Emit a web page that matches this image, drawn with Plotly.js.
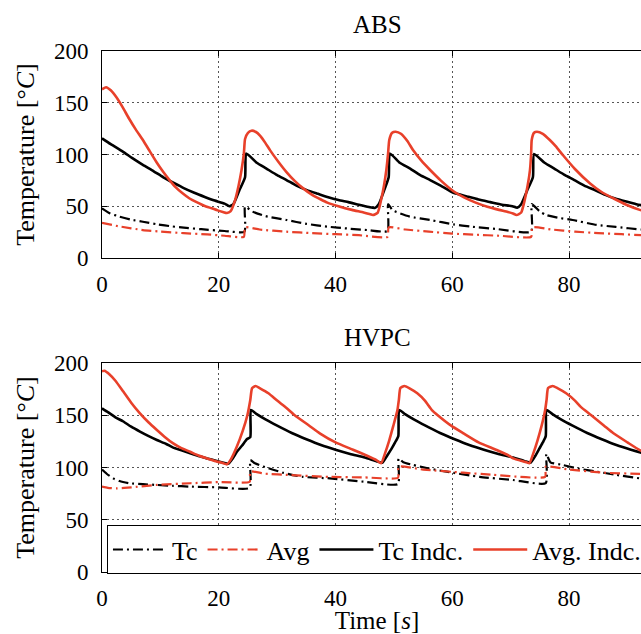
<!DOCTYPE html>
<html><head><meta charset="utf-8">
<script src="https://cdn.plot.ly/plotly-3.0.1.min.js"></script>
<style>html,body{margin:0;padding:0;overflow:hidden;background:#fff;width:641px;height:634px}#chart{width:700px;height:634px}</style>
</head><body><div id="chart"></div><script>
// ---------- ABS (top panel) ----------
const absTcT = [0,1.4,3,5,7,9.5,12,14,17,21,24.4,24.5,25.8,28,31.6,35,38.6,42,45.5,48.9,49.0,49.8,52.7,56.2,60.2,63.2,67.6,73.5,73.6,75,76.1,78,80.6,84.7,88,92.4,95];
const absTc  = [48,43,40,37,35,32.5,30.5,29.3,27.8,26.1,25.4,49.6,44.8,40.5,36.7,33,30.3,28.5,27,26,52,46,40,36.7,32.5,30.3,28,25.4,52,44.8,41.5,39,36.7,32,30,27.5,26.5];
const absAvgT = [0,3,7,10,14,18,21,24.3,24.5,27,31.6,36,40,44,48.9,49.1,52,56,60,64,68,73.5,73.7,77,81,85,89,92.4,95];
const absAvg  = [34,30.5,27,25.5,24,22.8,21.5,20.4,29.6,27.5,25.4,24,23,22,20.4,29.6,27.5,25.5,23.5,22.5,21.5,20.4,29.6,27.5,25.5,24,23,22,21.5];
const absTcIndT = [0,1.5,3.5,5.2,7,8.8,10.5,12.3,14,15.8,17.6,19.3,21,21.8,22.5,23.5,24.5,24.7,26.5,28.1,30,31.6,33.3,35.1,37,38.6,40.5,42.2,44,45.7,46.7,47.4,48.3,49.1,49.3,51,52.7,54.5,56.2,58,60.2,62.5,64.5,66.5,68.5,70.3,71.1,71.8,72.8,73.8,74.0,75.8,77.4,79.3,80.9,82.6,84.4,86.2,87.9,89.8,91.5,93,95];
const absTcInd  = [115.6,110,103,96.5,90,84,78,72.5,67.5,63,59,55.5,52.5,50,52,65,78,101,92,86.6,80,75.3,70,65.6,62,59,56,54,51.5,49.3,48.3,52,65,78,101,92,86.6,80,75.3,70,63,59.5,56.5,54,51.5,50,48.6,52,65,78,100.5,92,86.6,80,75.3,70,65.6,61,57.5,54.5,52,50.5,49];
const absAvgIndT = [0,0.7,1.5,2.5,3.5,4.6,5.8,7,8.2,9.4,10.5,11.6,12.6,13.8,15,16.2,17.5,18.8,19.8,20.7,21.4,22,22.8,23.4,23.9,24.3,24.5,25,25.6,26.3,27.1,28,28.8,30.2,31.6,33,34.4,36,37.5,38.6,40.5,42.8,44.8,45.8,46.4,47.2,47.8,48.3,48.7,49,49.2,49.7,50.3,51.2,52.3,53.3,54.7,56.2,58,60.2,62,64,66,68,69.5,70.4,71,71.8,72.4,72.9,73.3,73.5,73.6,74,74.5,75.5,76.7,77.7,79,81,83.6,85.5,87.8,89.8,92.1,95];
const absAvgInd  = [163,165,162,155,146,135,124,114,103,92,83,75,68.5,62.5,57.5,54,50.5,48,46,44.5,43.5,45,56,70,85,101,115,121,123,122,118,111,104,93,83,74.5,67.5,61,56.5,53.5,50,46.5,44,42.5,41.5,43.5,56,70,85,101,114,121,122,120,113,104,94,85,75,64.5,58.5,53.5,49.5,46.5,44.5,43,41.5,44,56,70,85,101,114,121,122,120,114,108,99,86,72,64,57,51.5,46.5,42];

// ---------- HVPC (bottom panel) ----------
const hvTcT = [0,0.8,1.9,3,4.7,7,9.4,12,15.1,20,25.3,25.4,26.2,27.6,31,34.4,39,44.8,50.7,50.8,51.6,53.3,56,59,64.7,70.4,76.0,76.1,76.8,78.9,81.5,84.7,88,92.1,95];
const hvTc  = [98,94,89.6,87,84.9,84,83.3,82.5,81.7,81,80.5,107,104,101,95,91,89.6,86.4,84.2,108.7,105,102.4,99,96,91,88,85,113,105,102.4,99,96,93,89.6,88];
const hvAvgT = [0,1,2.5,5,9.4,15.1,20,25.3,25.4,28,32.2,39,45,50.7,50.8,55,61.9,67,75.9,76.0,80,86,92.1,95];
const hvAvg  = [81.7,80.5,80,81,83.3,84.9,86,86.4,96,94,92.8,91,90.5,90.2,100.8,98,95,93,91,100.8,98,95,93.8,93];
const hvTcIndT = [0,1,2.3,3.65,5,6.5,8,9.4,11,12.2,13.6,15.1,16.5,18,19.5,20.8,21.6,22.3,23.1,24,24.8,25.4,25.5,26.5,28,30,32.5,35,37.5,40,42.5,45,47,48,48.8,49.6,50.2,50.75,50.9,51.9,53.4,55.4,57.9,60.4,62.9,65.4,67.9,70.4,72.4,73.4,74.2,74.9,75.5,76.0,76.15,77.15,78.6,80.6,83.1,85.6,88.1,90.6,93.1,95];
const hvTcInd  = [156.6,153,148,144,139,134.3,130,126.3,122.5,119,116.5,113.6,111,108.7,106.5,104.6,103.5,108,115,121,127,129,155,151,146,140,133,127,121.5,117,113,109.5,106,104.5,111,118,124,130,155,151,146,140,133,127,121.5,117,113,109.5,106,104.6,111,118,124,130,155,151,146,140,133,127,121.5,117,113,111];
const hvAvgIndT = [0,0.4,1.3,2.3,3.65,5,6.5,8,9.4,10.8,12.2,13.6,15.1,16.5,18,19.5,20.8,21.4,22.1,23.1,24.1,24.9,25.4,25.7,26.3,27,28.5,30,31.6,33,35.5,37.3,40,43,45.5,47,47.8,48.5,49.2,49.9,50.6,50.85,51.1,51.8,52.6,54,55.3,56.5,57.5,59.8,61.9,64.5,67.6,69.8,70.4,72.7,73.2,73.9,74.6,75.3,75.9,76.15,76.4,77.2,78,79.5,81,82,83.8,86,87.6,90,92.1,95];
const hvAvgInd  = [192,192.5,189,183,172.6,162,151.8,143,135.9,129,123,118.5,115,111.5,108.7,106,104,103,108,120,135,150,164.6,175.8,178,176,171,164,157,150,140,132.7,124,117,111,107,104,114,126,140,155,165,176,178,176,171,164,155,150,140,132.7,124,116.7,111,108.7,105,104,114,126,140,155,165,176,178,176,171,164,158,150,140,132.7,124,116.7,110];

const seriesNames = ['Tc','Avg','Tc Indc.','Avg. Indc.'];
const panelTitles = ['ABS','HVPC'];
const xTickVals = [0,20,40,60,80,100];
const yTickVals = [0,50,100,150,200];

const RED = 'rgb(232,64,42)';
const DD = '10px,4px,2px,4px';
const FONT = '"Liberation Serif", "Times New Roman", "DejaVu Serif", serif';

function tr(x, y, name, color, dash, width, xa, ya, show) {
  return {x: x, y: y, name: name, type: 'scatter', mode: 'lines',
    line: {color: color, dash: dash, width: width, shape: 'spline', smoothing: 0.5},
    xaxis: xa, yaxis: ya, showlegend: show, hoverinfo: 'skip'};
}

const data = [
  tr(absTcT, absTc, seriesNames[0], '#000', DD, 2.2, 'x2', 'y2', false),
  tr(absAvgT, absAvg, seriesNames[1], RED, DD, 2.2, 'x2', 'y2', false),
  tr(absTcIndT, absTcInd, seriesNames[2], '#000', 'solid', 2.6, 'x2', 'y2', false),
  tr(absAvgIndT, absAvgInd, seriesNames[3], RED, 'solid', 2.6, 'x2', 'y2', false),
  tr(hvTcT, hvTc, seriesNames[0], '#000', DD, 2.2, 'x', 'y', true),
  tr(hvAvgT, hvAvg, seriesNames[1], RED, DD, 2.2, 'x', 'y', true),
  tr(hvTcIndT, hvTcInd, seriesNames[2], '#000', 'solid', 2.6, 'x', 'y', true),
  tr(hvAvgIndT, hvAvgInd, seriesNames[3], RED, 'solid', 2.6, 'x', 'y', true)
];

function xax(anchor, title) {
  const a = {anchor: anchor, range: [0, 94.2], tickvals: xTickVals, ticks: 'inside', ticklen: 5,
    tickcolor: '#000', showline: true, linecolor: '#000', linewidth: 1, mirror: 'ticks',
    showgrid: true, gridcolor: '#555', griddash: '2px,3px', gridwidth: 1, zeroline: false,
    tickfont: {family: FONT, size: 23, color: '#000'}, ticklabelstandoff: 5};
  if (title) a.title = {text: title, font: {family: FONT, size: 25, color: '#000'}, standoff: 4};
  return a;
}
function yax(domain) {
  return {domain: domain, range: [0, 200], tickvals: yTickVals, ticks: 'inside', ticklen: 5,
    tickcolor: '#000', showline: true, linecolor: '#000', linewidth: 1, mirror: 'ticks',
    showgrid: true, gridcolor: '#555', griddash: '2px,3px', gridwidth: 1, zeroline: false,
    tickfont: {family: FONT, size: 23, color: '#000'}, ticklabelstandoff: 8,
    title: {text: 'Temperature [°<i>C</i>]', font: {family: FONT, size: 26, color: '#000'}, standoff: 11}};
}

const layout = {
  width: 700, height: 634,
  margin: {l: 102, r: 48, t: 51, b: 62},
  paper_bgcolor: '#fff', plot_bgcolor: '#fff',
  font: {family: FONT, color: '#000'},
  xaxis: xax('y', 'Time [<i>s</i>]'),
  yaxis: yax([0, 0.4012]),
  xaxis2: xax('y2', null),
  yaxis2: yax([0.6027, 1]),
  showlegend: true,
  legend: {orientation: 'h', x: 0.009, xanchor: 'left', y: 0.090, yanchor: 'top',
    bgcolor: '#fff', bordercolor: '#000', borderwidth: 1, itemwidth: 54,
    font: {family: FONT, size: 26, color: '#000'}},
  annotations: [
    {text: panelTitles[0], xref: 'x2 domain', yref: 'y2 domain', x: 0.5, y: 1, yanchor: 'middle', yshift: 27,
      showarrow: false, font: {family: FONT, size: 25, color: '#000'}},
    {text: panelTitles[1], xref: 'x domain', yref: 'y domain', x: 0.5, y: 1, yanchor: 'middle', yshift: 25,
      showarrow: false, font: {family: FONT, size: 25, color: '#000'}}
  ]
};

Plotly.newPlot('chart', data, layout, {displayModeBar: false, staticPlot: true});
</script></body></html>
